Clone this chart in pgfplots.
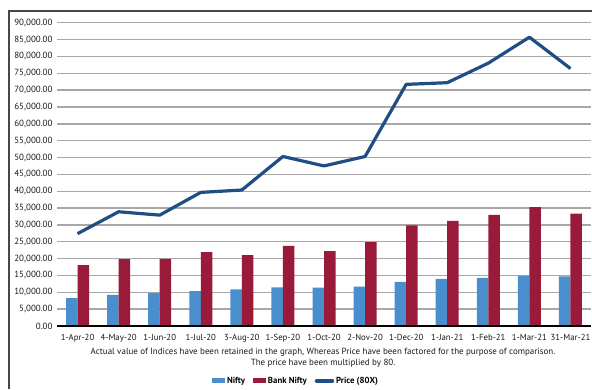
\documentclass[border=0pt]{standalone}
\usepackage{pgfplots}
\pgfplotsset{compat=1.18}
\usepackage{fontspec}
\setmainfont{PT Sans}
\definecolor{niftyblue}{HTML}{4A8FCD}
\definecolor{bankred}{HTML}{9A1B39}
\definecolor{priceblue}{HTML}{1F4E85}
\definecolor{gridgray}{HTML}{A8A8A8}
\begin{document}
\begin{tikzpicture}[x=1bp,y=1bp]
\path[use as bounding box] (0,0) rectangle (592,389);
\draw[line width=2bp, color=black!72] (8.5,0) -- (8.5,378) -- (592,378);
\begin{axis}[
  at={(57bp,63bp)}, anchor=south west,
  scale only axis, width=534bp, height=303.3bp,
  xmin=-0.5, xmax=12.5, ymin=0, ymax=90000,
  axis line style={draw=none},
  major tick length=0pt,
  xtick={0,...,12},
  xticklabels={1-Apr-20,4-May-20,1-Jun-20,1-Jul-20,3-Aug-20,1-Sep-20,1-Oct-20,2-Nov-20,1-Dec-20,1-Jan-21,1-Feb-21,1-Mar-21,31-Mar-21},
  ytick={0,5000,...,90000},
  ymajorgrids, grid style={gridgray, line width=1.4bp},
  /pgf/number format/.cd, fixed, fixed zerofill, precision=2, 1000 sep={,}, assume math mode=true,
  /pgfplots/.cd,
  scaled y ticks=false,
  yticklabel style={font=\fontsize{9}{10}\selectfont, color=black!90, xshift=-1bp},
  xticklabel style={font=\fontsize{8.8}{10}\selectfont, color=black!90, yshift=-5bp},
  legend style={at={(axis description cs:0.4476,-0.181)}, anchor=center, draw=none,
    font=\fontsize{8.8}{10}\selectfont\bfseries, legend columns=3,
    /tikz/every even column/.append style={column sep=6bp}},
  legend image code/.code={\fill[#1] (0bp,-2.5bp) rectangle (13bp,2.5bp);},
  clip=false,
]
\addplot[ybar, bar width=11.5bp, bar shift=-5.75bp, fill=niftyblue, draw=none] coordinates {
(0,8250) (1,9250) (2,9780) (3,10380) (4,10850) (5,11480) (6,11420) (7,11680) (8,13100) (9,14000) (10,14280) (11,14900) (12,14750)};
\addlegendentry{Nifty}
\addplot[ybar, bar width=11.5bp, bar shift=5.75bp, fill=bankred, draw=none] coordinates {
(0,18100) (1,19830) (2,19930) (3,21900) (4,21020) (5,23790) (6,22210) (7,24890) (8,29830) (9,31230) (10,33010) (11,35300) (12,33310)};
\addlegendentry{Bank Nifty}
\addplot[priceblue, line width=3.2bp, line join=round,
  legend image code/.code={\draw[priceblue, line width=4.5bp, line cap=round] (1bp,0) -- (16bp,0);}] coordinates {
(0,27400) (1,33900) (2,32900) (3,39650) (4,40350) (5,50300) (6,47500) (7,50300) (8,71700) (9,72200) (10,78000) (11,85700) (12,76400)};
\addlegendentry{Price (80X)}
\draw[black, line width=1.2bp] (axis cs:-0.5,0) -- (axis cs:12.5,0);
\end{axis}
\node[font=\fontsize{9}{10}\selectfont, color=black!90] at (323,37) {Actual value of Indices have been retained in the graph, Whereas Price have been factored for the purpose of comparison.};
\node[font=\fontsize{9}{10}\selectfont, color=black!90] at (323,26) {The price have been multiplied by 80.};
\end{tikzpicture}
\end{document}
